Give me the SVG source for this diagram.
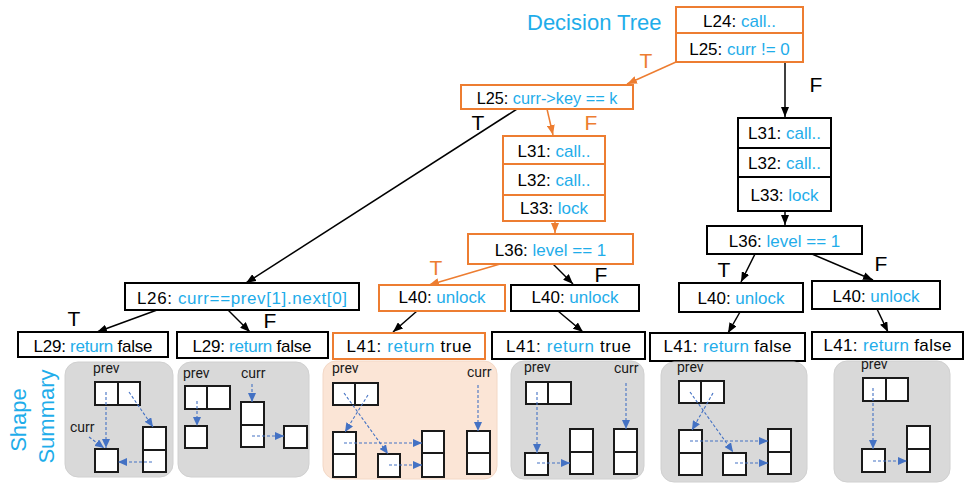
<svg xmlns="http://www.w3.org/2000/svg" width="965" height="483" viewBox="0 0 965 483">
<style>
.bk{fill:#ffffff;stroke:#000000;stroke-width:2}
.bo{fill:#ffffff;stroke:#ed7d31;stroke-width:2}
.t{font-family:"Liberation Sans",Arial,sans-serif;font-size:17px;fill:#000000;text-anchor:middle}
.b{fill:#1fadea}
.lbl{font-family:"Liberation Sans",Arial,sans-serif;font-size:21px;text-anchor:middle}
.title{font-family:"Liberation Sans",Arial,sans-serif;font-size:22px;fill:#1fadea}
.cb{stroke:#000000;stroke-width:1.5;fill:none;marker-end:url(#ab)}
.co{stroke:#ed7d31;stroke-width:1.5;fill:none;marker-end:url(#ao)}
.pg{fill:#d9d9d9;stroke:#d0d0d0;stroke-width:1}
.po{fill:#fbe5d6;stroke:#f3d8c6;stroke-width:1}
.c{fill:#ffffff;stroke:#1a1a1a;stroke-width:2}
.s{font-family:Roboto,"Liberation Sans",sans-serif;font-size:14px;fill:#1a1a1a}
.d{stroke:#4472c4;stroke-width:1.1;stroke-dasharray:3 2;fill:none;marker-end:url(#ad)}
</style>
<defs>
<marker id="ab" markerUnits="userSpaceOnUse" markerWidth="10" markerHeight="8" refX="10" refY="4" orient="auto"><path d="M0,0 L10,4 L0,8 z" fill="#000000"/></marker>
<marker id="ao" markerUnits="userSpaceOnUse" markerWidth="10" markerHeight="8" refX="10" refY="4" orient="auto"><path d="M0,0 L10,4 L0,8 z" fill="#ed7d31"/></marker>
<marker id="ad" markerUnits="userSpaceOnUse" markerWidth="9" markerHeight="8" refX="9" refY="4" orient="auto"><path d="M0,0 L9,4 L0,8 z" fill="#4472c4"/></marker>
</defs>
<rect width="965" height="483" fill="#ffffff"/>

<text class="title" x="527" y="30">Decision Tree</text>
<text class="title" transform="translate(26,420) rotate(-90)" text-anchor="middle">Shape</text>
<text class="title" transform="translate(53.5,416.5) rotate(-90)" text-anchor="middle">Summary</text>

<g id="connectors">
<line class="co" x1="676" y1="62" x2="627" y2="84"/>
<line class="co" x1="547" y1="109" x2="553" y2="135"/>
<line class="co" x1="555" y1="221" x2="555" y2="233"/>
<line class="co" x1="500" y1="264" x2="429" y2="285"/>
<line class="cb" x1="785" y1="62" x2="785" y2="117"/>
<line class="cb" x1="517" y1="109" x2="246" y2="283"/>
<line class="cb" x1="785" y1="211" x2="785" y2="225"/>
<line class="cb" x1="755" y1="254" x2="741" y2="282"/>
<line class="cb" x1="812" y1="254" x2="873" y2="280"/>
<line class="cb" x1="740" y1="312" x2="728" y2="333"/>
<line class="cb" x1="877" y1="309" x2="888" y2="332"/>
<line class="cb" x1="553" y1="264" x2="573" y2="284"/>
<line class="cb" x1="417" y1="311" x2="393" y2="332"/>
<line class="cb" x1="558" y1="311" x2="583" y2="332"/>
<line class="cb" x1="157" y1="310" x2="97" y2="332"/>
<line class="cb" x1="228" y1="310" x2="250" y2="332"/>
<text class="lbl" x="646" y="68" fill="#ed7d31">T</text>
<text class="lbl" x="816" y="92" fill="#000000">F</text>
<text class="lbl" x="478" y="130" fill="#000000">T</text>
<text class="lbl" x="591" y="130" fill="#ed7d31">F</text>
<text class="lbl" x="601" y="282" fill="#000000">F</text>
<text class="lbl" x="436" y="275" fill="#ed7d31">T</text>
<text class="lbl" x="724" y="277" fill="#000000">T</text>
<text class="lbl" x="881" y="271" fill="#000000">F</text>
<text class="lbl" x="74" y="326" fill="#000000">T</text>
<text class="lbl" x="270" y="328" fill="#000000">F</text>
</g>

<g id="n_root">
<rect class="bo" x="676" y="7" width="127" height="26"/>
<rect class="bo" x="676" y="33" width="127" height="29"/>
<text class="t" x="739.5" y="26.5">L24: <tspan class="b">call..</tspan></text>
<text class="t" x="739.5" y="54.5">L25: <tspan class="b">curr != 0</tspan></text>
</g>

<g id="n_key">
<rect class="bo" x="461" y="85" width="172" height="24"/>
<text class="t" x="547" y="103.5" style="font-size:16.3px">L25: <tspan class="b">curr-&gt;key == k</tspan></text>
</g>

<g id="n_mid_call">
<rect class="bo" x="503" y="136" width="102" height="28"/>
<rect class="bo" x="503" y="164" width="102" height="31"/>
<rect class="bo" x="503" y="195" width="102" height="26"/>
<text class="t" x="554" y="157">L31: <tspan class="b">call..</tspan></text>
<text class="t" x="554" y="186">L32: <tspan class="b">call..</tspan></text>
<text class="t" x="554" y="214">L33: <tspan class="b">lock</tspan></text>
</g>

<g id="n_mid_level">
<rect class="bo" x="468" y="234" width="165" height="30"/>
<text class="t" x="550.5" y="255.5">L36: <tspan class="b">level == 1</tspan></text>
</g>

<g id="n_right_call">
<rect class="bk" x="738" y="118" width="93" height="30"/>
<rect class="bk" x="738" y="148" width="93" height="29"/>
<rect class="bk" x="738" y="177" width="93" height="34"/>
<text class="t" x="784.5" y="139.3">L31: <tspan class="b">call..</tspan></text>
<text class="t" x="784.5" y="169.3">L32: <tspan class="b">call..</tspan></text>
<text class="t" x="784.5" y="200.7">L33: <tspan class="b">lock</tspan></text>
</g>

<g id="n_right_level">
<rect class="bk" x="707" y="226" width="155" height="28"/>
<text class="t" x="784.5" y="246.5">L36: <tspan class="b">level == 1</tspan></text>
</g>

<g id="n_r40t">
<rect class="bk" x="679" y="283" width="124" height="29"/>
<text class="t" x="741" y="304">L40: <tspan class="b">unlock</tspan></text>
</g>
<g id="n_r40f">
<rect class="bk" x="812" y="281" width="128" height="28"/>
<text class="t" x="876" y="301.7">L40: <tspan class="b">unlock</tspan></text>
</g>
<g id="n_r41t">
<rect class="bk" x="650" y="333" width="155" height="28"/>
<text class="t" x="727.5" y="352.3" textLength="128" lengthAdjust="spacing">L41: <tspan class="b">return</tspan> false</text>
</g>
<g id="n_r41f">
<rect class="bk" x="812" y="332" width="151" height="27"/>
<text class="t" x="887.5" y="350.7" textLength="128" lengthAdjust="spacing">L41: <tspan class="b">return</tspan> false</text>
</g>

<g id="n_m40o">
<rect class="bo" x="379" y="285" width="126" height="26"/>
<text class="t" x="442" y="303.3">L40: <tspan class="b">unlock</tspan></text>
</g>
<g id="n_m40b">
<rect class="bk" x="511" y="285" width="128" height="26"/>
<text class="t" x="575" y="303.3">L40: <tspan class="b">unlock</tspan></text>
</g>
<g id="n_m41o">
<rect class="bo" x="333" y="333" width="152" height="26"/>
<text class="t" x="409" y="351.7" textLength="125" lengthAdjust="spacing">L41: <tspan class="b">return</tspan> true</text>
</g>
<g id="n_m41b">
<rect class="bk" x="492" y="332" width="153" height="27"/>
<text class="t" x="568.5" y="351.7" textLength="125" lengthAdjust="spacing">L41: <tspan class="b">return</tspan> true</text>
</g>

<g id="n_l26">
<rect class="bk" x="125" y="283" width="234" height="27"/>
<text class="t" x="242" y="304.3" textLength="210" lengthAdjust="spacing">L26: <tspan class="b">curr==prev[1].next[0]</tspan></text>
</g>
<g id="n_l29t">
<rect class="bk" x="18" y="332" width="150" height="25"/>
<text class="t" x="93" y="351.5" textLength="119" lengthAdjust="spacing">L29: <tspan class="b">return</tspan> false</text>
</g>
<g id="n_l29f">
<rect class="bk" x="177" y="332" width="151" height="26"/>
<text class="t" x="252" y="351.5" textLength="119" lengthAdjust="spacing">L29: <tspan class="b">return</tspan> false</text>
</g>

<g id="summary1">
<rect class="pg" x="65" y="362" width="108" height="115" rx="13"/>
<text class="s" x="93" y="373">prev</text>
<text class="s" x="70" y="432">curr</text>
<rect class="c" x="95" y="382" width="23" height="23"/>
<rect class="c" x="118" y="382" width="22" height="23"/>
<rect class="c" x="143" y="427" width="23" height="23"/>
<rect class="c" x="143" y="450" width="23" height="22"/>
<rect class="c" x="95" y="449" width="23" height="23"/>
<line class="d" x1="106" y1="392" x2="106" y2="448"/>
<line class="d" x1="129" y1="392" x2="153" y2="427"/>
<line class="d" x1="89" y1="437" x2="104" y2="448"/>
<line class="d" x1="152" y1="462" x2="118" y2="462"/>
</g>

<g id="summary2">
<rect class="pg" x="178" y="362" width="131" height="115" rx="13"/>
<text class="s" x="183" y="378">prev</text>
<text class="s" x="241" y="378">curr</text>
<rect class="c" x="185" y="386" width="22" height="23"/>
<rect class="c" x="207" y="386" width="23" height="23"/>
<rect class="c" x="185" y="426" width="22" height="22"/>
<rect class="c" x="241" y="402" width="23" height="23"/>
<rect class="c" x="241" y="425" width="23" height="22"/>
<rect class="c" x="284" y="426" width="23" height="22"/>
<line class="d" x1="197" y1="401" x2="197" y2="426"/>
<line class="d" x1="252" y1="384" x2="252" y2="402"/>
<line class="d" x1="252" y1="436" x2="284" y2="436"/>
</g>

<g id="summary3">
<rect class="po" x="323" y="361" width="174" height="118" rx="13"/>
<text class="s" x="332" y="373">prev</text>
<text class="s" x="467" y="377">curr</text>
<rect class="c" x="333" y="383" width="22" height="22"/>
<rect class="c" x="355" y="383" width="23" height="22"/>
<rect class="c" x="333" y="432" width="23" height="22"/>
<rect class="c" x="333" y="454" width="23" height="23"/>
<rect class="c" x="378" y="454" width="22" height="23"/>
<rect class="c" x="422" y="431" width="22" height="22"/>
<rect class="c" x="422" y="453" width="22" height="24"/>
<rect class="c" x="467" y="431" width="23" height="22"/>
<rect class="c" x="467" y="453" width="23" height="21"/>
<line class="d" x1="478" y1="385" x2="478" y2="431"/>
<line class="d" x1="344" y1="393" x2="388" y2="454"/>
<line class="d" x1="368" y1="395" x2="345" y2="432"/>
<line class="d" x1="344" y1="443" x2="422" y2="443"/>
<line class="d" x1="389" y1="465" x2="422" y2="465"/>
</g>

<g id="summary4">
<rect class="pg" x="511" y="361" width="133" height="118" rx="13"/>
<text class="s" x="524" y="372">prev</text>
<text class="s" x="614" y="373">curr</text>
<rect class="c" x="526" y="382" width="22" height="22"/>
<rect class="c" x="548" y="382" width="23" height="22"/>
<rect class="c" x="525" y="453" width="23" height="22"/>
<rect class="c" x="570" y="429" width="23" height="23"/>
<rect class="c" x="570" y="452" width="23" height="22"/>
<rect class="c" x="614" y="429" width="23" height="23"/>
<rect class="c" x="614" y="452" width="23" height="22"/>
<line class="d" x1="537" y1="392" x2="537" y2="453"/>
<line class="d" x1="626" y1="383" x2="626" y2="429"/>
<line class="d" x1="537" y1="463" x2="570" y2="463"/>
</g>

<g id="summary5">
<rect class="pg" x="661" y="362" width="146" height="120" rx="13"/>
<text class="s" x="677" y="372">prev</text>
<rect class="c" x="679" y="381" width="22" height="22"/>
<rect class="c" x="701" y="381" width="23" height="22"/>
<rect class="c" x="679" y="430" width="23" height="23"/>
<rect class="c" x="679" y="453" width="23" height="22"/>
<rect class="c" x="723" y="453" width="23" height="22"/>
<rect class="c" x="768" y="429" width="23" height="23"/>
<rect class="c" x="768" y="452" width="23" height="22"/>
<line class="d" x1="690" y1="392" x2="733" y2="452"/>
<line class="d" x1="713" y1="393" x2="692" y2="430"/>
<line class="d" x1="690" y1="441" x2="768" y2="441"/>
<line class="d" x1="735" y1="463" x2="768" y2="463"/>
</g>

<g id="summary6">
<rect class="pg" x="834" y="361" width="116" height="121" rx="13"/>
<text class="s" x="861" y="369">prev</text>
<rect class="c" x="863" y="378" width="23" height="23"/>
<rect class="c" x="886" y="378" width="22" height="23"/>
<rect class="c" x="862" y="449" width="23" height="23"/>
<rect class="c" x="907" y="426" width="23" height="23"/>
<rect class="c" x="907" y="449" width="23" height="23"/>
<line class="d" x1="873" y1="388" x2="873" y2="449"/>
<line class="d" x1="873" y1="461" x2="907" y2="461"/>
</g>
</svg>
